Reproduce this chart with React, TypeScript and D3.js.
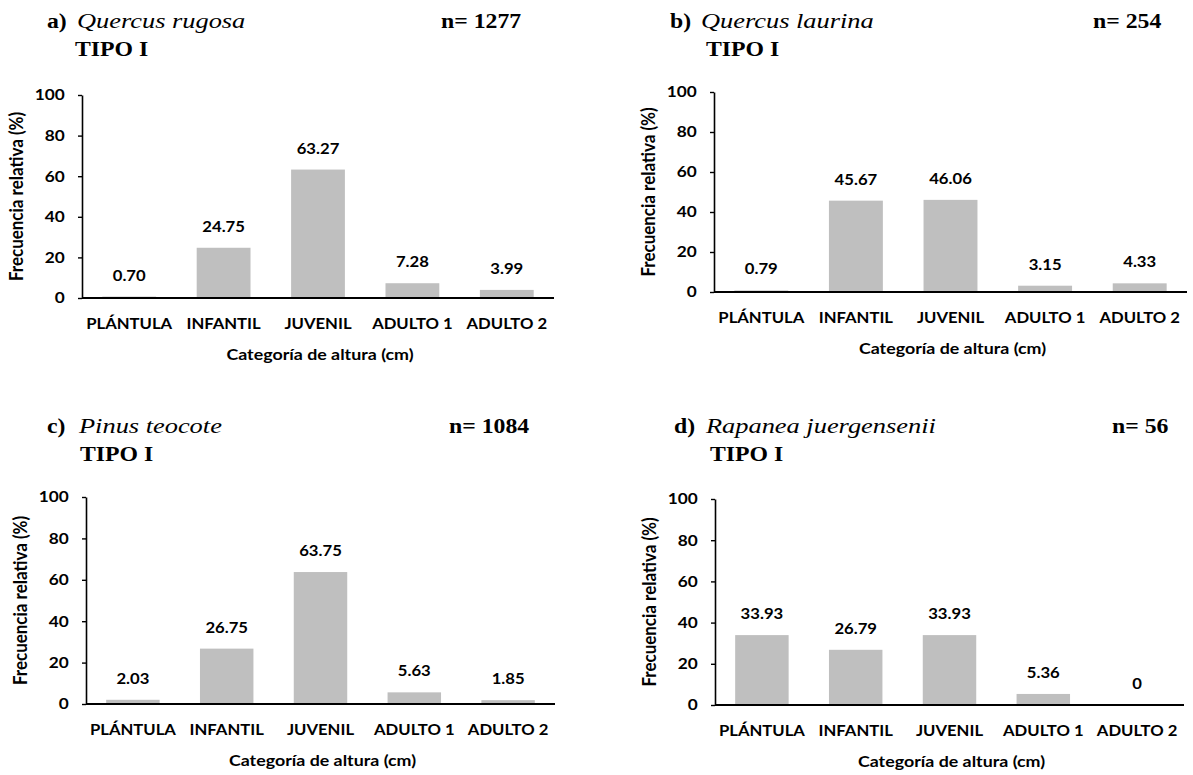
import React, { useEffect, useRef } from 'react';
import * as d3 from 'd3';

const categories = ['PLÁNTULA', 'INFANTIL', 'JUVENIL', 'ADULTO 1', 'ADULTO 2'];
const yTicks = [0, 20, 40, 60, 80, 100];

const quercusRugosa = [0.7, 24.75, 63.27, 7.28, 3.99];
const quercusLaurina = [0.79, 45.67, 46.06, 3.15, 4.33];
const pinusTeocote = [2.03, 26.75, 63.75, 5.63, 1.85];
const rapaneaJuergensenii = [33.93, 26.79, 33.93, 5.36, 0];

const panelLetters = ['a)', 'b)', 'c)', 'd)'];
const speciesNames = ['Quercus rugosa', 'Quercus laurina', 'Pinus teocote', 'Rapanea juergensenii'];
const sampleSizes = [1277, 254, 1084, 56];
const tipoLabel = 'TIPO I';
const yTitle = 'Frecuencia relativa (%)';
const xTitle = 'Categoría de altura (cm)';

const series = [quercusRugosa, quercusLaurina, pinusTeocote, rapaneaJuergensenii];

const frames = [
  { x0: 82, x1: 554, top: 95, bottom: 298, letterX: 47, nameX: 77, nX: 441, titleY: 28, tipoX: 75, tipoY: 56 },
  { x0: 714, x1: 1187, top: 92, bottom: 292, letterX: 670, nameX: 701, nX: 1093, titleY: 28, tipoX: 706, tipoY: 56 },
  { x0: 86, x1: 555, top: 497, bottom: 704, letterX: 47, nameX: 79, nX: 449, titleY: 433, tipoX: 80, tipoY: 461 },
  { x0: 715, x1: 1184, top: 499, bottom: 705, letterX: 674, nameX: 706, nX: 1112, titleY: 433, tipoX: 710, tipoY: 461 },
];

const SX = 1.15; // the figure is a bit stretched sideways
const SX_BOLD = 1.08;
const SX_ITALIC = 1.2;
const sans = 'Lato, "Open Sans", sans-serif';
const serif = '"Liberation Serif", "Times New Roman", serif';
const barColor = '#bfbfbf';

const fmt = (v: number) => (v === 0 ? '0' : v.toFixed(2));

const App = () => {
  const ref = useRef<SVGSVGElement>(null);

  useEffect(() => {
    const svg = d3.select(ref.current);
    svg.selectAll('*').remove();

    const stretched = (sel: any, x: number, y: number, s = SX) =>
      sel.attr('transform', `translate(${x},${y}) scale(${s},1)`);

    frames.forEach((f, i) => {
      const values = series[i];
      const g = svg.append('g');

      const x = d3.scaleBand<string>()
        .domain(categories)
        .range([f.x0, f.x1])
        .paddingInner(0.43)
        .paddingOuter(0.215);
      const y = d3.scaleLinear().domain([0, 100]).range([f.bottom, f.top]);

      // bars
      g.selectAll('.bar')
        .data(values)
        .enter().append('rect')
        .attr('class', 'bar')
        .attr('x', (d, j) => x(categories[j]) as number)
        .attr('y', d => y(d))
        .attr('width', x.bandwidth())
        .attr('height', d => f.bottom - y(d))
        .attr('fill', barColor);

      // value labels
      values.forEach((v, j) => {
        const t = g.append('text')
          .attr('text-anchor', 'middle')
          .style('font-family', sans)
          .style('font-weight', 700)
          .style('font-size', '14.5px')
          .attr('fill', '#000')
          .text(fmt(v));
        stretched(t, (x(categories[j]) as number) + x.bandwidth() / 2, y(v) - 16);
      });

      // y axis
      const yAxis = g.append('g')
        .attr('transform', `translate(${f.x0},0)`)
        .call(d3.axisLeft(y).tickValues(yTicks).tickSize(4).tickSizeOuter(0).tickPadding(11));
      yAxis.select('.domain').attr('stroke', '#000').attr('stroke-width', 1.6);
      yAxis.selectAll('.tick line').attr('stroke', '#000').attr('stroke-width', 1.4);
      yAxis.selectAll('.tick text')
        .style('font-family', sans)
        .style('font-weight', 700)
        .style('font-size', '15px')
        .attr('fill', '#000')
        .attr('transform', `scale(${SX},1)`);

      // x axis baseline
      g.append('line')
        .attr('x1', f.x0).attr('x2', f.x1)
        .attr('y1', f.bottom).attr('y2', f.bottom)
        .attr('stroke', '#000').attr('stroke-width', 2);

      // category labels
      categories.forEach(c => {
        const t = g.append('text')
          .attr('text-anchor', 'middle')
          .style('font-family', sans)
          .style('font-weight', 700)
          .style('font-size', '14.5px')
          .text(c);
        stretched(t, (x(c) as number) + x.bandwidth() / 2, f.bottom + 31);
      });

      // axis titles
      const xt = g.append('text')
        .attr('text-anchor', 'middle')
        .style('font-family', sans)
        .style('font-weight', 700)
        .style('font-size', '15.5px')
        .text(xTitle);
      stretched(xt, (f.x0 + f.x1) / 2 + 2, f.bottom + 62);

      g.append('text')
        .attr('text-anchor', 'middle')
        .attr('transform', `translate(${f.x0 - 59},${(f.top + f.bottom) / 2}) scale(${SX},1) rotate(-90)`)
        .style('font-family', sans)
        .style('font-weight', 700)
        .style('font-size', '17px')
        .text(yTitle);

      // panel heading
      const letter = g.append('text')
        .style('font-family', serif).style('font-weight', 700).style('font-size', '22px')
        .text(panelLetters[i]);
      stretched(letter, f.letterX, f.titleY, SX_BOLD);

      const name = g.append('text')
        .style('font-family', serif).style('font-style', 'italic').style('font-size', '22px')
        .text(speciesNames[i]);
      stretched(name, f.nameX, f.titleY, SX_ITALIC);

      const n = g.append('text')
        .style('font-family', serif).style('font-weight', 700).style('font-size', '22px')
        .text(`n= ${sampleSizes[i]}`);
      stretched(n, f.nX, f.titleY, SX_BOLD);

      const tipo = g.append('text')
        .style('font-family', serif).style('font-weight', 700).style('font-size', '22px')
        .text(tipoLabel);
      stretched(tipo, f.tipoX, f.tipoY, SX_BOLD);
    });
  }, []);

  return (
    <div style={{ position: 'absolute', left: 0, top: 0 }}>
      <svg ref={ref} width={1193} height={775} style={{ display: 'block', background: '#fff' }} />
    </div>
  );
};

export default App;
